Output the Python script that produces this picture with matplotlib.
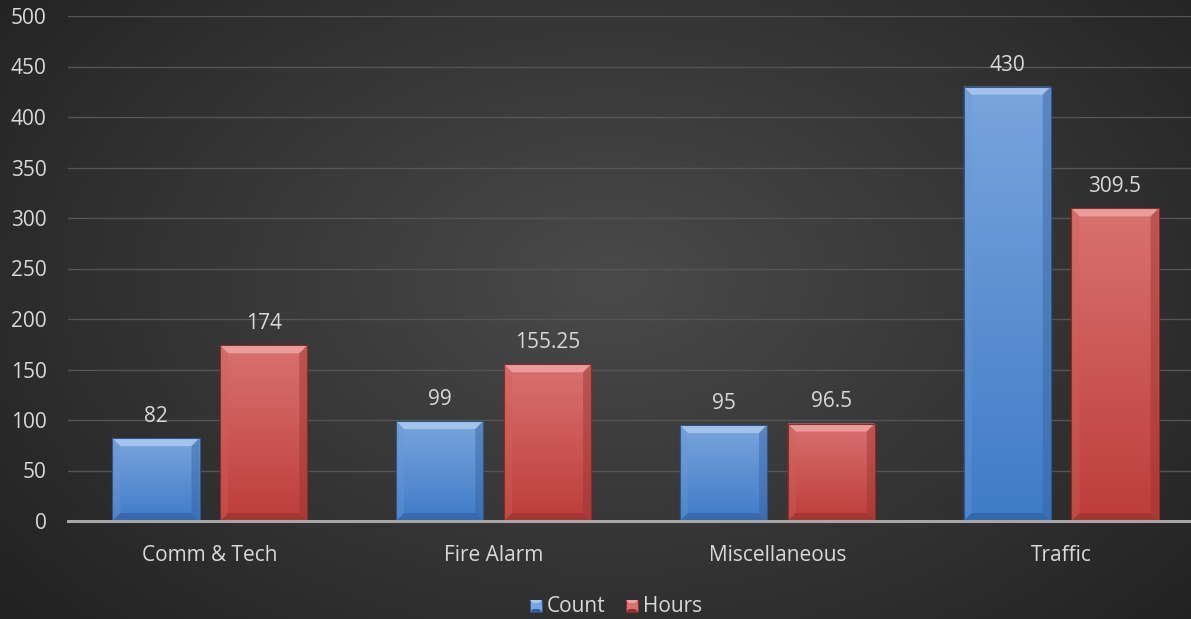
import numpy as np
import matplotlib.pyplot as plt
from matplotlib.patches import Polygon, Rectangle
from matplotlib.colors import LinearSegmentedColormap

categories = ["Comm & Tech", "Fire Alarm", "Miscellaneous", "Traffic"]
count = [82, 99, 95, 430]
hours = [174, 155.25, 96.5, 309.5]
count_labels = ["82", "99", "95", "430"]
hours_labels = ["174", "155.25", "96.5", "309.5"]
yticks = list(range(0, 501, 50))
series_names = ["Count", "Hours"]

FONT = ["Open Sans", "DejaVu Sans"]
FS = 15
TXT = "#d9d9d9"

W, H = 1191, 619
fig = plt.figure(figsize=(W / 100, H / 100), dpi=100)

# radial dark background
bg = fig.add_axes([0, 0, 1, 1], zorder=-10)
yy, xx = np.mgrid[0:H, 0:W]
d = np.sqrt(((xx - 610) / 720.0) ** 2 + ((yy - 280) / 470.0) ** 2)
val = np.clip(74 - 42 * np.clip(d, 0, 1.15) / 1.15, 0, 255) / 255.0
bg.imshow(np.dstack([val, val, val]), extent=[0, W, H, 0], aspect="auto")
bg.set_axis_off()

ax_l, ax_r = 68, 1203
ax_b, ax_t = 521, 16
ax = fig.add_axes([ax_l / W, (H - ax_b) / H, (ax_r - ax_l) / W, (ax_b - ax_t) / H])
ax.patch.set_alpha(0)
ax.set_xlim(-0.5, 3.5)
ax.set_ylim(0, 500)
for s in ax.spines.values():
    s.set_visible(False)
ax.set_yticks(yticks)
ax.set_yticklabels([str(v) for v in yticks], fontsize=FS, color=TXT, family=FONT)
ax.set_xticks(range(len(categories)))
ax.set_xticklabels(categories, fontsize=FS, color=TXT, family=FONT)
ax.tick_params(axis="both", length=0)
ax.tick_params(axis="y", pad=15.5)
ax.tick_params(axis="x", pad=17)
ax.grid(axis="y", color="#555555", linewidth=1.0)
ax.set_axisbelow(True)
ax.axhline(0, color="#a6a6a6", linewidth=2.2, zorder=6, clip_on=False)

px_x = (ax_r - ax_l) / 4.0   # pixels per category unit
px_y = (ax_b - ax_t) / 500.0  # pixels per value unit

x = np.arange(len(categories))
bw = 0.307
off = 0.19

blue = dict(top="#7aa5dc", bot="#3f7bc8", edge="#2d5590",
            light="#a9c7ee", side_l="#6b98d6", side_r="#35629f", bottom="#2f5d9c")
red = dict(top="#d9726f", bot="#bd3d3b", edge="#8a2a29",
           light="#eba3a0", side_l="#d0605d", side_r="#9a3230", bottom="#93302e")


def dress_bar(p, c):
    x0, y0 = p.get_x(), p.get_y()
    w, h = p.get_width(), p.get_height()
    x1, y1 = x0 + w, y0 + h
    cmap = LinearSegmentedColormap.from_list("g", [c["bot"], c["top"]])
    grad = np.linspace(0, 1, 256).reshape(-1, 1)
    im = ax.imshow(grad, cmap=cmap, extent=[x0, x1, y0, y1], origin="lower",
                   aspect="auto", zorder=3)
    im.set_clip_path(p)
    bx = 8 / px_x
    by = 8 / px_y
    polys = [
        ([(x0, y1), (x1, y1), (x1 - bx, y1 - by), (x0 + bx, y1 - by)], c["light"], 0.9),
        ([(x0, y0), (x0 + bx, y0 + by), (x0 + bx, y1 - by), (x0, y1)], c["side_l"], 0.35),
        ([(x1, y0), (x1 - bx, y0 + by), (x1 - bx, y1 - by), (x1, y1)], c["side_r"], 0.45),
        ([(x0, y0), (x1, y0), (x1 - bx, y0 + by), (x0 + bx, y0 + by)], c["bottom"], 0.6),
    ]
    for pts, col, a in polys:
        ax.add_patch(Polygon(pts, closed=True, facecolor=col, edgecolor="none",
                             alpha=a, zorder=4))
    ax.add_patch(Rectangle((x0, y0), w, h, facecolor="none", edgecolor=c["edge"],
                           linewidth=0.8, zorder=5))


bars_c = ax.bar(x - off, count, bw, color=blue["top"], zorder=2, label=series_names[0])
bars_h = ax.bar(x + off, hours, bw, color=red["top"], zorder=2, label=series_names[1])
for p in bars_c:
    dress_bar(p, blue)
for p in bars_h:
    dress_bar(p, red)

for bars, labels in ((bars_c, count_labels), (bars_h, hours_labels)):
    for p, lab in zip(bars, labels):
        ax.annotate(lab, (p.get_x() + p.get_width() / 2, p.get_height()),
                    xytext=(0, 8), textcoords="offset points", ha="center",
                    va="bottom", fontsize=FS, color=TXT, family=FONT, zorder=7)

# legend drawn as bevelled swatches plus text, centred under the plot
lax = fig.add_axes([0, 0, 1, 1], zorder=5)
lax.set_xlim(0, W)
lax.set_ylim(H, 0)
lax.set_axis_off()
lax.patch.set_alpha(0)
legend_y = 606
items = [(530, series_names[0], blue), (626, series_names[1], red)]
for sx, name, c in items:
    s = 12
    x0, y0 = sx, legend_y - s / 2
    lax.add_patch(Rectangle((x0, y0), s, s, facecolor=c["top"], edgecolor=c["edge"], lw=0.6))
    b = 3
    lax.add_patch(Polygon([(x0, y0), (x0 + s, y0), (x0 + s - b, y0 + b), (x0 + b, y0 + b)],
                          facecolor=c["light"], edgecolor="none"))
    lax.add_patch(Polygon([(x0, y0 + s), (x0 + s, y0 + s), (x0 + s - b, y0 + s - b), (x0 + b, y0 + s - b)],
                          facecolor=c["bottom"], edgecolor="none"))
    lax.text(x0 + s + 5, legend_y, name, fontsize=FS, color=TXT, family=FONT,
             va="center", ha="left")

fig.savefig("out.png", dpi=100)
